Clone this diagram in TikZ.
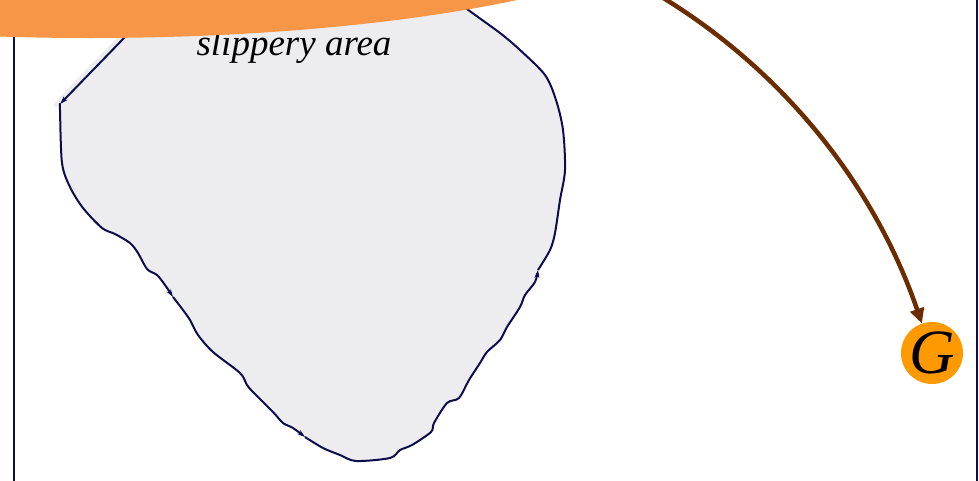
\documentclass[tikz,border=0pt]{standalone}
\usepackage{fontspec}
\setmainfont{Liberation Serif}
\usetikzlibrary{arrows.meta}
\definecolor{edgenavy}{HTML}{0D0D4D}
\definecolor{areagray}{HTML}{EDEDF0}
\definecolor{capeorange}{HTML}{F79646}
\definecolor{goalorange}{HTML}{FF9900}
\definecolor{routebrown}{HTML}{6B2C00}
\begin{document}
\begin{tikzpicture}[
		x=1pt, y=-1pt,
		frame line/.style={draw=edgenavy, line width=2pt},
		area edge/.style={draw=edgenavy, line width=2pt, line join=round, -{Stealth[length=8pt, width=5pt]}},
		area label/.style={font=\fontsize{37}{40}\selectfont\itshape, anchor=base, inner sep=0pt},
		goal/.style={circle, fill=goalorange, minimum size=62pt, inner sep=0pt, font=\fontsize{63}{63}\selectfont\itshape},
		route/.style={draw=routebrown, line width=4.5pt, -{Triangle[length=15pt, width=14pt]}}
	]
	\useasboundingbox (0,0) rectangle (979,480);
	\clip (0,0) rectangle (979,480);
	\draw[frame line] (14,-10) rectangle (977,490);
	\fill[areagray] plot[smooth cycle] coordinates {(150,5) (117,38) (56,102) (60,110) (62,163) (70,187) (83,208) (102,228) (115,234) (130,243) (138,253) (147,269) (157,275) (165,285) (173,297) (183,310) (190,320) (198,335) (213,352) (240,373) (247,385) (253,392) (273,412) (283,423) (293,428) (305,437) (323,448) (340,455) (356,461) (390,458) (400,450) (412,445) (431,432) (434,423) (447,403) (459,398) (469,380) (480,363) (487,352) (500,340) (507,327) (520,307) (525,295) (535,282) (538,270) (550,250) (555,233) (560,200) (565,170) (563,130) (556,100) (545,75) (520,50) (500,33) (467,9) (450,-5) (300,-5)};
	\draw[area edge] plot[smooth] coordinates {(150,10) (123,39) (60,104)};
	\draw[area edge] plot[smooth] coordinates {(60,104) (60,110) (62,163) (70,187) (83,208) (102,228) (115,234) (130,243) (138,253) (147,269) (157,275) (165,285) (173,297)};
	\draw[area edge] plot[smooth] coordinates {(173,297) (183,310) (190,320) (198,335) (213,352) (240,373) (247,385) (253,392) (273,412) (283,423) (293,428) (305,437)};
	\draw[area edge] plot[smooth] coordinates {(305,437) (323,448) (340,455) (356,461) (390,458) (400,450) (412,445) (431,432) (434,423) (447,403) (459,398) (469,380) (480,363) (487,352) (500,340) (507,327) (520,307) (525,295) (535,282) (538,270)};
	\draw[area edge] plot[smooth] coordinates {(538,270) (550,250) (555,233) (560,200) (565,170) (563,130) (556,100) (545,75) (520,50) (500,33) (467,9) (450,-5)};
	\node[area label] (slippery) at (294,55) {slippery area};
	\fill[capeorange] (90,-100) ellipse [x radius=620pt, y radius=138pt];
	\coordinate (routestart) at (630,-21);
	\node[goal] (G) at (932,353) {G};
	\draw[route] (routestart) .. controls (768,52) and (871,175) .. (G);
\end{tikzpicture}
\end{document}
